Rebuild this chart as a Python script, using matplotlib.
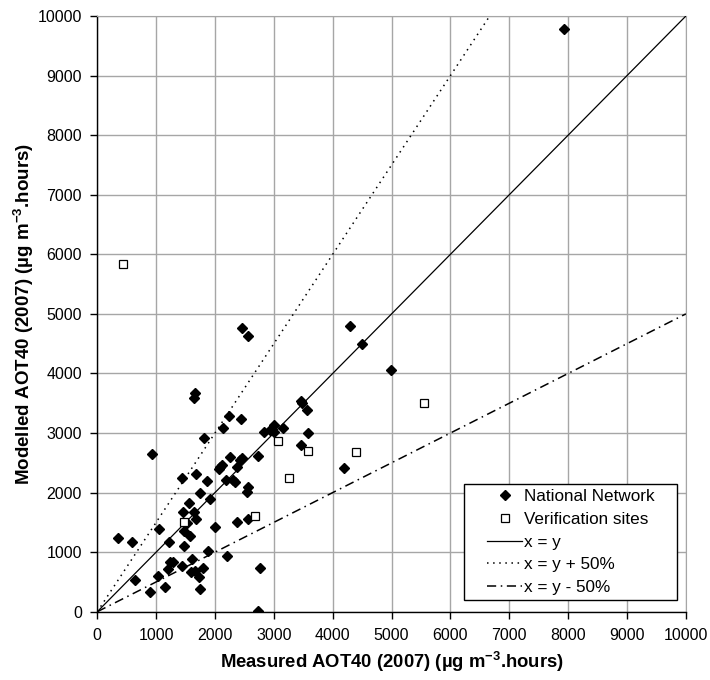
import numpy as np
import matplotlib
matplotlib.use("Agg")
import matplotlib.pyplot as plt
from matplotlib.lines import Line2D
from matplotlib.legend_handler import HandlerLine2D

plt.rcParams['font.family'] = ['Liberation Sans', 'DejaVu Sans']
plt.rcParams['mathtext.fontset'] = 'custom'
plt.rcParams['mathtext.rm'] = 'Liberation Sans:bold'
plt.rcParams['mathtext.default'] = 'rm'

# National Network sites: measured vs modelled AOT40 (ug m-3.hours)
nat_measured = [7935, 2454, 2560, 4295, 4504, 4986, 1666, 1649, 924, 2244,
                2437, 2142, 1813, 3457, 3474, 3559, 3008, 2838, 2935, 3008,
                3151, 3576, 3462, 4198, 2730, 2255, 2454, 2425, 2369, 2085,
                2114, 2074, 1677, 1445, 1859, 2187, 2312, 2340, 2566, 2539,
                1745, 1915, 1564, 1462, 1649, 1519, 1672, 2000, 2369, 2566,
                1049, 1479, 1575, 352, 595, 1219, 1479, 1887, 2209, 1236,
                1292, 1604, 1445, 1207, 1802, 1592, 1660, 1728, 1037, 1151,
                896, 1745, 641, 2765, 2737]
nat_modelled = [9780, 4768, 4625, 4800, 4499, 4062, 3671, 3580, 2650, 3294,
                3239, 3082, 2914, 3541, 3503, 3390, 3133, 3025, 3054, 3015,
                3082, 2998, 2802, 2420, 2615, 2602, 2575, 2547, 2434, 2434,
                2463, 2390, 2306, 2239, 2194, 2211, 2211, 2172, 2098, 2014,
                1998, 1887, 1820, 1679, 1679, 1494, 1551, 1427, 1501, 1551,
                1388, 1360, 1276, 1239, 1171, 1170, 1103, 1019, 935, 839,
                830, 885, 772, 717, 728, 661, 683, 588, 599, 420,
                336, 381, 533, 735, 15]

# Verification sites
ver_measured = [432, 1470, 2680, 3076, 3576, 4397, 3263, 5552]
ver_modelled = [5837, 1512, 1612, 2869, 2701, 2689, 2242, 3508]

fig = plt.figure(figsize=(7.1, 6.8), dpi=100)
ax = fig.add_axes([0.137, 0.1004, 0.829, 0.876])

ax.plot(nat_measured, nat_modelled, 'D', color='black', markersize=5.5,
        linestyle='none', label='National Network', zorder=4)
ax.plot(ver_measured, ver_modelled, 's', markerfacecolor='white',
        markeredgecolor='black', markeredgewidth=0.9, markersize=6,
        linestyle='none', label='Verification sites', zorder=4)

xl = np.array([0, 10000])
ax.plot(xl, xl, color='black', lw=0.9, label='x = y', zorder=3)
ax.plot(xl, 1.5 * xl, color='black', lw=1.1, linestyle=(0, (1, 3)),
        label='x = y + 50%', zorder=3)
ax.plot(xl, 0.5 * xl, color='black', lw=1.1, linestyle=(0, (6, 3, 1, 3)),
        label='x = y - 50%', zorder=3)

ax.set_xlim(0, 10000)
ax.set_ylim(0, 10000)
ax.set_xticks(np.arange(0, 10001, 1000))
ax.set_yticks(np.arange(0, 10001, 1000))
ax.grid(True, color='#a6a6a6', lw=1.0)
ax.set_axisbelow(True)
for s in ['top', 'right']:
    ax.spines[s].set_color('#a6a6a6')
for s in ['left', 'bottom']:
    ax.spines[s].set_color('black')
    ax.spines[s].set_linewidth(1.0)
ax.tick_params(direction='out', length=5, width=1, labelsize=11.5)
ax.tick_params(axis='x', pad=7)
ax.tick_params(axis='y', pad=6)

ax.set_xlabel('Measured AOT40 (2007) (\u00b5g m$^{-3}$.hours)',
              fontsize=13.3, fontweight='bold', labelpad=5)
ax.set_ylabel('Modelled AOT40 (2007) (\u00b5g m$^{-3}$.hours)',
              fontsize=13.5, fontweight='bold', labelpad=1)

# legend box placed like the original (axes fraction)
leg = ax.legend(loc='lower left', bbox_to_anchor=(0.623, 0.0196, 0.362, 0.19),
                mode='expand', fontsize=12.3, frameon=True, fancybox=False,
                edgecolor='black', framealpha=1, borderaxespad=0,
                handlelength=3.1, labelspacing=0.45, handletextpad=0.1,
                borderpad=0.3,
                handler_map={Line2D: HandlerLine2D(xpad=1.05)})
leg.get_frame().set_linewidth(1.0)

fig.savefig('out.png', dpi=100)
